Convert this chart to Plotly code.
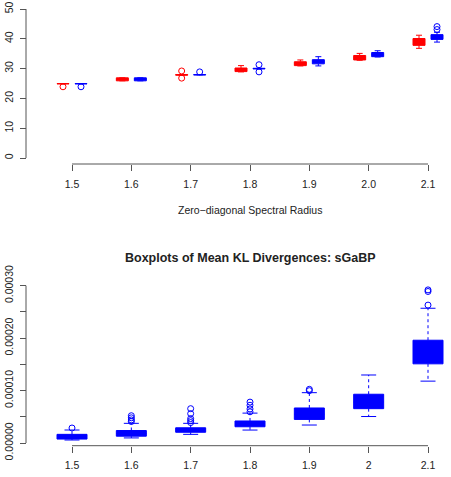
import plotly.graph_objects as go

W, H = 451, 477

# ---------------- data ----------------
positions = [1.5, 1.6, 1.7, 1.8, 1.9, 2.0, 2.1]
top_tick_text = ["1.5", "1.6", "1.7", "1.8", "1.9", "2.0", "2.1"]
bottom_tick_text = ["1.5", "1.6", "1.7", "1.8", "1.9", "2", "2.1"]
top_y_ticks = [0, 10, 20, 30, 40, 50]
bottom_y_ticks = [0, 0.00005, 0.0001, 0.00015, 0.0002, 0.00025, 0.0003]
bottom_y_text = ["0.00000", "", "0.00010", "", "0.00020", "", "0.00030"]

# top chart, red series
red_lo = [24.9, 25.9, 27.8, 28.9, 30.9, 32.8, 36.8]
red_q1 = [24.9, 25.9, 27.8, 29.0, 31.0, 32.9, 37.8]
red_med = [24.9, 26.4, 27.9, 29.6, 31.6, 33.6, 39.0]
red_q3 = [25.0, 26.9, 28.0, 30.2, 32.3, 34.4, 40.1]
red_hi = [25.0, 26.9, 28.0, 31.0, 32.9, 35.1, 41.2]
red_out_pos = [1.5, 1.7, 1.7]
red_out_val = [23.9, 29.2, 26.8]

# top chart, blue series
blue_lo = [24.9, 25.9, 27.9, 29.9, 30.9, 33.9, 38.9]
blue_q1 = [24.9, 25.9, 27.9, 29.9, 31.6, 34.0, 39.8]
blue_med = [24.9, 26.4, 27.9, 30.0, 32.3, 34.7, 40.6]
blue_q3 = [25.0, 26.9, 28.0, 30.1, 33.0, 35.4, 41.4]
blue_hi = [25.0, 26.9, 28.0, 30.1, 34.0, 36.0, 42.2]
blue_out_pos = [1.5, 1.7, 1.8, 1.8, 2.1, 2.1]
blue_out_val = [23.9, 28.9, 31.3, 28.9, 44.1, 43.1]

# bottom chart (mean KL divergences, sGaBP)
kl_lo = [0.57e-5, 0.97e-5, 1.65e-5, 2.47e-5, 3.43e-5, 5.05e-5, 11.8e-5]
kl_q1 = [0.75e-5, 1.30e-5, 2.05e-5, 3.10e-5, 4.50e-5, 6.55e-5, 15.1e-5]
kl_med = [1.10e-5, 1.80e-5, 2.50e-5, 3.60e-5, 5.50e-5, 7.80e-5, 17.5e-5]
kl_q3 = [1.65e-5, 2.38e-5, 2.90e-5, 4.20e-5, 6.68e-5, 9.30e-5, 19.6e-5]
kl_hi = [2.48e-5, 3.75e-5, 3.75e-5, 5.70e-5, 9.60e-5, 12.97e-5, 25.7e-5]
kl_out_pos = [1.5, 1.6, 1.6, 1.6, 1.6, 1.7, 1.7, 1.7, 1.7, 1.7,
              1.8, 1.8, 1.8, 1.8, 1.9, 1.9, 2.1, 2.1, 2.1]
kl_out_val = [2.86e-5, 5.2e-5, 4.8e-5, 4.4e-5, 4.1e-5, 6.55e-5, 5.6e-5, 4.65e-5, 4.26e-5, 3.9e-5,
              7.8e-5, 7.2e-5, 6.5e-5, 5.95e-5, 10.24e-5, 9.98e-5, 26.3e-5, 29.2e-5, 28.9e-5]

RED = "#FF0000"
BLUE = "#0000FF"
AXC = "#555555"
TXT = "#222222"
FONT = "Liberation Sans, Arial, sans-serif"

# ---------------- geometry (pixels) ----------------
X0_PX, X1_PX = 72.0, 428.0            # pixel of 1.5 and 2.1
PX_PER_X = (X1_PX - X0_PX) / 0.6
PA_L, PA_R = 30.0, 450.0
x_range = [1.5 - (X0_PX - PA_L) / PX_PER_X, 2.1 + (PA_R - X1_PX) / PX_PER_X]
x_dom = [PA_L / W, PA_R / W]

def yp(py):
    return 1 - py / H

# top panel
T_Y0, T_Y50 = 158.0, 9.0
t_k = (T_Y0 - T_Y50) / 50.0
T_TOP, T_BOT = 3.0, 163.0
t_range = [-(T_BOT - T_Y0) / t_k, (T_Y0 - T_TOP) / t_k]
t_dom = [yp(T_BOT), yp(T_TOP)]
T_XAXIS_PX = 164.0

# bottom panel
B_Y0, B_Y3 = 443.0, 285.7
b_k = (B_Y0 - B_Y3) / 0.0003
B_TOP, B_BOT = 278.0, 447.0
b_range = [-(B_BOT - B_Y0) / b_k, (B_Y0 - B_TOP) / b_k]
b_dom = [yp(B_BOT), yp(B_TOP)]
B_XAXIS_PX = 445.7

AXIS_X_PX = 26.0

off = 9.0 / PX_PER_X        # side-by-side offset in top panel
w_top = 12.0 / PX_PER_X
w_bot = 30.0 / PX_PER_X

fig = go.Figure()

def add_box(xs, lo, q1, med, q3, hi, color, width, xa, ya):
    # R-style whiskers: dashed stems + solid staples, drawn as line traces
    stem_x, stem_y, cap_x, cap_y = [], [], [], []
    for x, a, b, c, d in zip(xs, lo, q1, q3, hi):
        if a < b:
            stem_x += [x, x, None]; stem_y += [b, a, None]
        if d > c:
            stem_x += [x, x, None]; stem_y += [c, d, None]
        cap_x += [x - width / 4, x + width / 4, None, x - width / 4, x + width / 4, None]
        cap_y += [a, a, None, d, d, None]
    fig.add_trace(go.Scatter(x=stem_x, y=stem_y, mode="lines", showlegend=False,
                             line=dict(color=color, width=1, dash="3px,3px"),
                             xaxis=xa, yaxis=ya, hoverinfo="skip"))
    fig.add_trace(go.Scatter(x=cap_x, y=cap_y, mode="lines", showlegend=False,
                             line=dict(color=color, width=1),
                             xaxis=xa, yaxis=ya, hoverinfo="skip"))
    fig.add_trace(go.Box(
        x=xs, lowerfence=q1, q1=q1, median=med, q3=q3, upperfence=q3,
        fillcolor=color, line=dict(color=color, width=1), width=width,
        whiskerwidth=0, boxpoints=False, showlegend=False,
        xaxis=xa, yaxis=ya, hoverinfo="skip"))

def add_out(xs, ys, color, xa, ya):
    fig.add_trace(go.Scatter(
        x=xs, y=ys, mode="markers", showlegend=False, xaxis=xa, yaxis=ya,
        marker=dict(symbol="circle-open", size=6, color=color, line=dict(width=1, color=color)),
        hoverinfo="skip"))

add_box([p - off for p in positions], red_lo, red_q1, red_med, red_q3, red_hi, RED, w_top, "x", "y")
add_box([p + off for p in positions], blue_lo, blue_q1, blue_med, blue_q3, blue_hi, BLUE, w_top, "x", "y")
add_out([p - off for p in red_out_pos], red_out_val, RED, "x", "y")
add_out([p + off for p in blue_out_pos], blue_out_val, BLUE, "x", "y")

add_box(positions, kl_lo, kl_q1, kl_med, kl_q3, kl_hi, BLUE, w_bot, "x2", "y2")
add_out(kl_out_pos, kl_out_val, BLUE, "x2", "y2")

tickfont = dict(family=FONT, size=10.5, color=TXT)

def xaxis_cfg(ticktext, pos_px):
    return dict(domain=x_dom, range=x_range, anchor="free", position=yp(pos_px),
                showgrid=False, zeroline=False, showline=False, automargin=False,
                tickmode="array", tickvals=positions, ticktext=ticktext,
                ticks="outside", ticklen=6, tickwidth=1, tickcolor=AXC,
                tickfont=tickfont, ticklabelstandoff=4, fixedrange=True)

def yaxis_cfg(dom, rng, tv, tt):
    return dict(domain=dom, range=rng, anchor="free", position=AXIS_X_PX / W,
                showgrid=False, zeroline=False, showline=False, automargin=False,
                tickmode="array", tickvals=tv, ticktext=tt, tickangle=-90,
                ticks="outside", ticklen=6, tickwidth=1, tickcolor=AXC,
                tickfont=tickfont, ticklabelstandoff=3, fixedrange=True)

shapes = [
    dict(type="line", xref="x", yref="paper", x0=1.5, x1=2.1,
         y0=yp(T_XAXIS_PX), y1=yp(T_XAXIS_PX), line=dict(color=AXC, width=1)),
    dict(type="line", xref="paper", yref="y", x0=AXIS_X_PX / W, x1=AXIS_X_PX / W,
         y0=0, y1=50, line=dict(color=AXC, width=1)),
    dict(type="line", xref="x2", yref="paper", x0=1.5, x1=2.1,
         y0=yp(B_XAXIS_PX), y1=yp(B_XAXIS_PX), line=dict(color=AXC, width=1)),
    dict(type="line", xref="paper", yref="y2", x0=AXIS_X_PX / W, x1=AXIS_X_PX / W,
         y0=0, y1=0.0003, line=dict(color=AXC, width=1)),
]

annotations = [
    dict(text="Zero\u2212diagonal Spectral Radius", xref="x", yref="paper",
         x=1.8, y=yp(210), showarrow=False, xanchor="center", yanchor="middle",
         font=dict(family=FONT, size=10.5, color=TXT)),
    dict(text="<b>Boxplots of Mean KL Divergences: sGaBP</b>", xref="x2", yref="paper",
         x=1.8, y=yp(258), showarrow=False, xanchor="center", yanchor="middle",
         font=dict(family=FONT, size=12.5, color=TXT)),
]

fig.update_layout(
    width=W, height=H, autosize=False,
    margin=dict(l=0, r=0, t=0, b=0, pad=0),
    paper_bgcolor="white", plot_bgcolor="white",
    boxmode="overlay", boxgap=0, boxgroupgap=0,
    xaxis=xaxis_cfg(top_tick_text, T_XAXIS_PX),
    yaxis=yaxis_cfg(t_dom, t_range, top_y_ticks, [str(v) for v in top_y_ticks]),
    xaxis2=xaxis_cfg(bottom_tick_text, B_XAXIS_PX),
    yaxis2=yaxis_cfg(b_dom, b_range, bottom_y_ticks, bottom_y_text),
    shapes=shapes, annotations=annotations, showlegend=False,
)

fig.write_html("out.html", config={"displayModeBar": False})
